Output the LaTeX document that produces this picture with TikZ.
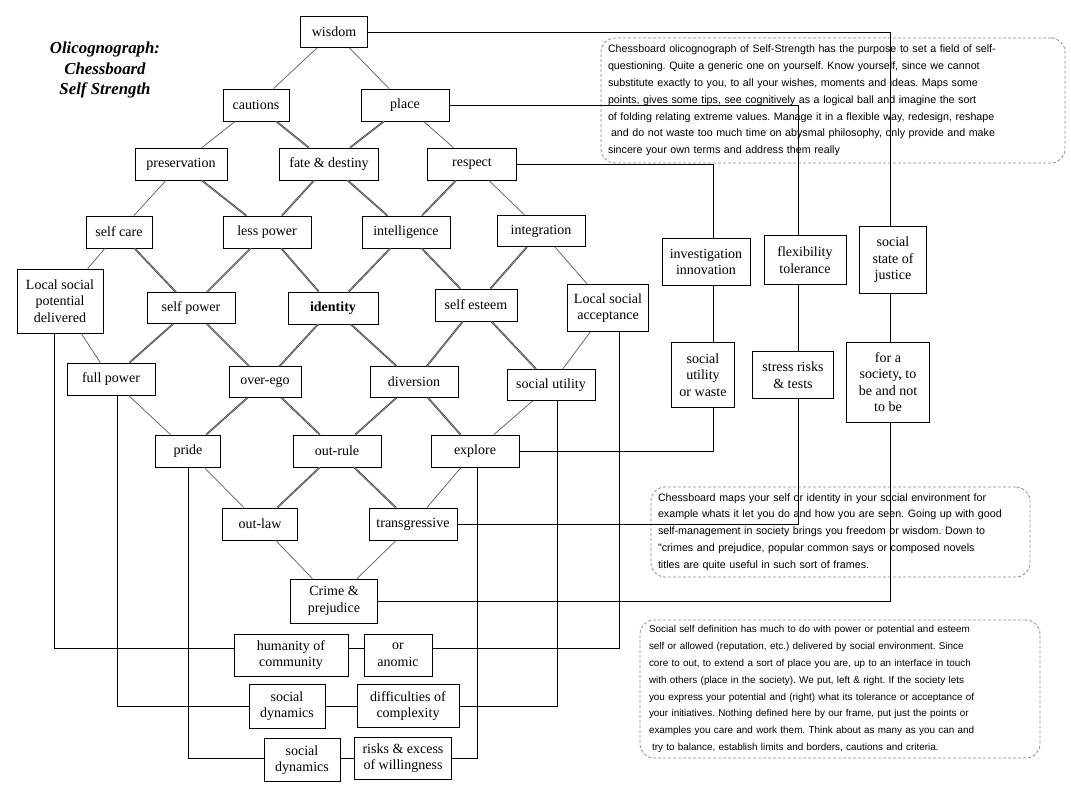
\documentclass[tikz,border=0pt]{standalone}
\usepackage{fontspec}
\setmainfont{Liberation Serif}
\newfontfamily\notefont{Liberation Sans}
\usepackage{tikz}
\usetikzlibrary{positioning}
\frenchspacing

\tikzset{
  cell/.style={draw, line width=0.8pt, fill=white, align=center, inner sep=2pt,
    font=\fontsize{14}{16.5}\selectfont},
  note/.style={draw=black!45, dash pattern=on 3pt off 2pt, line width=0.8pt,
    rounded corners=14pt, align=left, inner ysep=4pt,
    font=\notefont\fontsize{10.7}{16.8}\selectfont},
  link/.style={draw=black!65, line width=0.7pt},
  strong/.style={draw=black!80, double=black!35, double distance=0.5pt, line width=0.6pt},
  wire/.style={draw=black, line width=0.8pt}
}

\begin{document}
\begin{tikzpicture}[x=1pt, y=-1pt]
  \useasboundingbox (0,0) rectangle (1071,791);

  % notes
  \node[note, minimum width=464, minimum height=125, text width=450, inner xsep=7pt] (note1) at (833,100.5)
    {Chessboard olicognograph of Self-Strength has the purpose to set a field of self-\\
     questioning. Quite a generic one on yourself. Know yourself, since we cannot\\
     substitute exactly to you, to all your wishes, moments and ideas. Maps some\\
     points, gives some tips, see cognitively as a logical ball and imagine the sort\\
     of folding relating extreme values. Manage  it in a flexible way, redesign, reshape\\
     \hspace*{3pt}and do not waste too much time on abysmal philosophy, only provide and make\\
     sincere your own terms and address them really};
  \node[note, minimum width=379, minimum height=90, text width=365, inner xsep=7pt] (note2) at (840.5,532)
    {Chessboard maps your self or identity in your social environment for\\
     example whats it let you do and how you are seen. Going up with good\\
     self-management in society brings you freedom or wisdom. Down to\\
     "crimes and prejudice, popular common says or composed novels\\
     titles are quite useful in such sort of frames.};
  \node[note, minimum width=400, minimum height=138, text width=382, inner xsep=9pt,
        font=\notefont\fontsize{9.9}{16.9}\selectfont] (note3) at (840,689)
    {Social self definition has much to do with power or potential and esteem\\
     self or allowed (reputation, etc.) delivered by social environment. Since\\
     core to out, to extend a sort of place you are, up to an interface in touch\\
     with others (place in the society). We put, left \& right. If the society lets\\
     you express your potential and (right) what its tolerance or acceptance of\\
     your initiatives. Nothing defined here by our frame, put just the points or\\
     examples you care and work them. Think about as many as you can and\\
     \hspace*{3pt}try to balance, establish limits and borders, cautions and criteria.};

  \node[align=center, font=\fontsize{16.8}{20.5}\selectfont\bfseries\itshape] (title) at (105,70)
    {Olicognograph:\\Chessboard\\Self Strength};

  % chessboard
  \node[cell, minimum width=67, minimum height=31] (wisdom) at (334,32) {wisdom};
  \node[cell, minimum width=66, minimum height=32] (cautions) at (256,105) {cautions};
  \node[cell, minimum width=88, minimum height=32] (place) at (405,105) {place};
  \node[cell, minimum width=92, minimum height=32] (preservation) at (181,164) {preservation};
  \node[cell, minimum width=99, minimum height=32] (fate) at (329,164) {fate \& destiny};
  \node[cell, minimum width=89, minimum height=32] (respect) at (472,164) {respect};
  \node[cell, minimum width=66, minimum height=32] (selfcare) at (119,232) {self care};
  \node[cell, minimum width=88, minimum height=32] (lesspower) at (267,232) {less power};
  \node[cell, minimum width=88, minimum height=32] (intelligence) at (406,232) {intelligence};
  \node[cell, minimum width=88, minimum height=31] (integration) at (541,231) {integration};
  \node[cell, minimum width=86, minimum height=64] (lspd) at (60,301) {Local social\\potential\\delivered};
  \node[cell, minimum width=88, minimum height=31] (selfpower) at (191,308) {self power};
  \node[cell, minimum width=90, minimum height=32] (identity) at (333,308) {\bfseries identity};
  \node[cell, minimum width=82, minimum height=32] (selfesteem) at (476,305) {self esteem};
  \node[cell, minimum width=81, minimum height=47] (lsa) at (608,308) {Local social\\acceptance};
  \node[cell, minimum width=88, minimum height=32] (fullpower) at (111,379) {full power};
  \node[cell, minimum width=72, minimum height=31] (overego) at (265,382) {over-ego};
  \node[cell, minimum width=88, minimum height=31] (diversion) at (414,382) {diversion};
  \node[cell, minimum width=88, minimum height=31] (socutil) at (551,385) {social utility};
  \node[cell, minimum width=65, minimum height=32] (pride) at (188,451) {pride};
  \node[cell, minimum width=88, minimum height=32] (outrule) at (337,451) {out-rule};
  \node[cell, minimum width=88, minimum height=32] (explore) at (475,451) {explore};
  \node[cell, minimum width=75, minimum height=32] (outlaw) at (260,524) {out-law};
  \node[cell, minimum width=88, minimum height=32] (transg) at (413,524) {transgressive};
  \node[cell, minimum width=87, minimum height=44] (crime) at (334,601) {Crime \&\\prejudice};

  % bottom pairs
  \node[cell, minimum width=114, minimum height=42] (humanity) at (291,655) {humanity of\\community};
  \node[cell, minimum width=68, minimum height=42] (anomic) at (398,655) {or\\anomic};
  \node[cell, minimum width=76, minimum height=44] (socdyn1) at (287,706) {social\\dynamics};
  \node[cell, minimum width=102, minimum height=43] (difficult) at (408,706) {difficulties of\\complexity};
  \node[cell, minimum width=76, minimum height=43] (socdyn2) at (302,760) {social\\dynamics};
  \node[cell, minimum width=97, minimum height=42] (risks) at (403,758) {risks \& excess\\of willingness};

  % right columns
  \node[cell, minimum width=88, minimum height=47] (invest) at (706,262) {investigation\\innovation};
  \node[cell, minimum width=82, minimum height=49] (flex) at (805,260) {flexibility\\tolerance};
  \node[cell, minimum width=67, minimum height=67] (justice) at (893,260) {social\\state of\\justice};
  \node[cell, minimum width=63, minimum height=65] (sutilw) at (703,375) {social\\utility\\or waste};
  \node[cell, minimum width=81, minimum height=47] (stress) at (793,375) {stress risks\\\& tests};
  \node[cell, minimum width=83, minimum height=80] (forsoc) at (888,382) {for a\\society, to\\be and not\\to be};

  \foreach \a/\b in {wisdom/cautions, wisdom/place, cautions/preservation, place/respect,
      preservation/selfcare, respect/integration, selfcare/lspd, integration/lsa,
      lspd/fullpower, lsa/socutil, fullpower/pride, socutil/explore,
      pride/outlaw, explore/transg, outlaw/crime, transg/crime}
    \draw[link] (\a) -- (\b);
  \foreach \a/\b in {cautions/fate, place/fate, preservation/lesspower, fate/lesspower,
      fate/intelligence, respect/intelligence, selfcare/selfpower, lesspower/selfpower,
      lesspower/identity, intelligence/identity, intelligence/selfesteem, integration/selfesteem,
      selfpower/fullpower, selfpower/overego, identity/overego, identity/diversion,
      selfesteem/diversion, selfesteem/socutil, overego/pride, overego/outrule,
      diversion/outrule, diversion/explore, outrule/outlaw, outrule/transg}
    \draw[strong] (\a) -- (\b);

  % side wiring
  \coordinate (invcol) at (713,0);
  \coordinate (flexcol) at (798,0);
  \coordinate (juscol) at (890,0);
  \draw[wire] (wisdom.east) -| (juscol |- justice.north);
  \draw[wire] (juscol |- justice.south) -- (juscol |- forsoc.north);
  \draw[wire] (juscol |- forsoc.south) |- (crime.east);
  \draw[wire] (place.east) -| (flexcol |- flex.north);
  \draw[wire] (flexcol |- flex.south) -- (flexcol |- stress.north);
  \draw[wire] (flexcol |- stress.south) |- (transg.east);
  \draw[wire] (respect.east) -| (invcol |- invest.north);
  \draw[wire] (invcol |- invest.south) -- (invcol |- sutilw.north);
  \draw[wire] (invcol |- sutilw.south) |- (explore.east);

  % bottom wiring
  \draw[wire] ([xshift=-6pt]lspd.south) |- ([yshift=7pt]humanity.west);
  \draw[wire] ([xshift=6pt]fullpower.south) |- (socdyn1.west);
  \draw[wire] (pride.south) |- ([yshift=2pt]socdyn2.west);
  \draw[wire] ([yshift=7pt]humanity.east) -- ([yshift=7pt]anomic.west);
  \draw[wire] (socdyn1.east) -- (difficult.west);
  \draw[wire] ([yshift=2pt]socdyn2.east) -- (risks.west);
  \draw[wire] ([yshift=7pt]anomic.east) -| ([xshift=11pt]lsa.south);
  \draw[wire] (difficult.east) -| ([xshift=6pt]socutil.south);
  \draw[wire] (risks.east) -| ([xshift=2pt]explore.south);
\end{tikzpicture}
\end{document}
